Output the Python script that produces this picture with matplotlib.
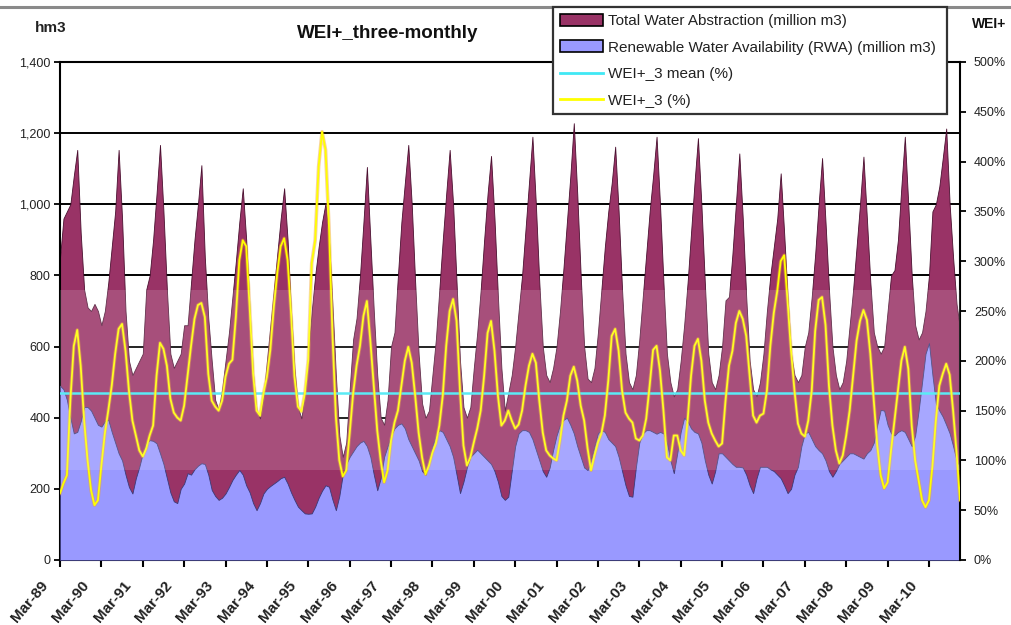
import matplotlib
matplotlib.use('Agg')
import matplotlib.pyplot as plt
from matplotlib import font_manager
from matplotlib.patches import Patch
from matplotlib.lines import Line2D
import matplotlib.transforms as mtransforms
import matplotlib.patheffects as pe
from matplotlib.ticker import FuncFormatter
import numpy as np

# ---------------- data (monthly, Mar-89 ... Dec-10) ----------------
year_labels = ['Mar-89', 'Mar-90', 'Mar-91', 'Mar-92', 'Mar-93', 'Mar-94', 'Mar-95',
               'Mar-96', 'Mar-97', 'Mar-98', 'Mar-99', 'Mar-00', 'Mar-01', 'Mar-02',
               'Mar-03', 'Mar-04', 'Mar-05', 'Mar-06', 'Mar-07', 'Mar-08', 'Mar-09',
               'Mar-10']

total_abstraction = [
    850, 960, 980, 1000, 1080, 1153, 920, 760, 710, 700, 720, 700,
    660, 700, 780, 880, 980, 1153, 960, 700, 560, 520, 540, 560,
    580, 760, 800, 900, 1030, 1167, 980, 760, 580, 540, 560, 580,
    660, 660, 780, 900, 1000, 1110, 850, 680, 560, 450, 422, 480,
    560, 640, 740, 840, 950, 1045, 900, 700, 520, 420, 398, 460,
    560, 660, 760, 860, 960, 1045, 900, 700, 540, 430, 398, 470,
    580, 700, 800, 880, 950, 1003, 900, 720, 520, 350, 290, 330,
    480, 620, 680, 800, 950, 1105, 900, 700, 520, 400, 380, 450,
    600, 640, 800, 950, 1060, 1167, 1000, 780, 580, 440, 400, 420,
    520, 620, 760, 900, 1030, 1153, 1000, 780, 560, 430, 400, 430,
    540, 640, 760, 900, 1030, 1136, 960, 740, 540, 420, 470, 520,
    600, 700, 800, 930, 1060, 1190, 1000, 780, 600, 520, 500, 540,
    600, 700, 820, 950, 1080, 1228, 1030, 800, 600, 510, 500, 540,
    640, 760, 880, 980, 1060, 1162, 980, 760, 580, 500, 480, 520,
    620, 740, 860, 980, 1080, 1190, 1000, 780, 580, 500, 460, 480,
    560, 660, 780, 920, 1060, 1186, 1000, 780, 580, 500, 480, 520,
    600, 730, 740, 860, 1000, 1143, 960, 740, 560, 480, 460, 500,
    580, 700, 800, 880, 960, 1087, 920, 740, 580, 520, 500, 520,
    600, 640, 740, 860, 1000, 1130, 950, 760, 600, 520, 480, 500,
    560, 660, 760, 880, 1000, 1134, 960, 780, 640, 600, 580, 600,
    700, 800, 815, 900, 1050, 1190, 1000, 800, 660, 620, 640, 700,
    800, 980, 1000, 1050, 1130, 1213, 1000, 850, 720, 650,
]

renewable_availability = [
    490, 480, 450, 400, 356, 360, 390, 430, 430, 420, 400, 380,
    375, 390, 394, 360, 330, 300, 280, 240, 205, 187, 230, 262,
    300, 330, 337, 335, 328, 300, 270, 230, 190, 165, 160, 200,
    215, 244, 240, 255, 265, 272, 270, 240, 197, 180, 169, 175,
    187, 205, 225, 240, 253, 240, 210, 190, 160, 140, 160, 187,
    200, 208, 215, 222, 230, 234, 215, 190, 169, 150, 140, 131,
    130, 131, 150, 175, 195, 210, 206, 170, 140, 180, 240, 270,
    290, 305, 320, 330, 335, 320, 290, 240, 196, 230, 290, 320,
    350, 370, 380, 384, 370, 340, 320, 300, 280, 250, 240, 280,
    320, 350, 365, 360, 340, 320, 290, 240, 188, 220, 260, 290,
    300, 310, 300, 290, 280, 270, 250, 220, 180, 169, 178, 250,
    320, 356, 365, 365, 360, 340, 310, 280, 250, 234, 260, 309,
    350, 380, 394, 400, 380, 356, 320, 290, 260, 253, 280, 320,
    356, 365, 360, 340, 330, 320, 290, 250, 210, 180, 178, 260,
    330, 356, 365, 365, 360, 355, 360, 356, 330, 280, 244, 300,
    360, 400, 390, 370, 360, 356, 330, 280, 240, 215, 250, 300,
    300, 290, 280, 270, 262, 262, 260, 240, 210, 188, 230, 262,
    262, 262, 255, 250, 240, 230, 210, 188, 200, 240, 262, 320,
    356, 360, 340, 320, 309, 300, 280, 250, 234, 250, 270, 280,
    290, 300, 300, 295, 290, 285, 300, 309, 330, 380, 422, 420,
    380, 356, 350, 360, 365, 360, 340, 320, 350, 420, 500, 580,
    610, 520, 440, 420, 403, 380, 356, 320, 280, 262,
]

wei_3 = [
    67, 77, 85, 160, 215, 231, 195, 140, 100, 70, 55, 60,
    95, 127, 150, 175, 207, 232, 237, 210, 170, 140, 125, 110,
    104, 112, 125, 135, 185, 218, 212, 195, 162, 148, 143, 140,
    155, 185, 215, 242, 256, 258, 244, 187, 160, 154, 150, 160,
    184, 197, 201, 244, 301, 321, 315, 254, 187, 150, 145, 167,
    184, 211, 254, 288, 315, 323, 301, 248, 184, 154, 149, 167,
    201, 298, 321, 395, 430, 412, 335, 228, 144, 100, 84, 90,
    127, 167, 195, 215, 245, 260, 220, 175, 130, 100, 78, 90,
    120, 138, 150, 175, 200, 214, 198, 165, 128, 103, 86, 95,
    108, 117, 135, 165, 215, 250, 262, 240, 170, 115, 95, 103,
    118, 132, 150, 185, 228, 240, 210, 165, 135, 140, 150, 140,
    132, 136, 150, 175, 195, 207, 198, 160, 128, 110, 105, 102,
    100, 120, 145, 160, 185, 194, 180, 155, 140, 112, 90, 105,
    118, 127, 145, 180, 225, 232, 210, 170, 148, 142, 138, 122,
    120, 125, 142, 175, 211, 215, 190, 150, 103, 100, 125, 125,
    110, 105, 140, 185, 215, 222, 200, 160, 138, 127, 120, 114,
    117, 160, 195, 210, 238, 250, 242, 225, 185, 145, 138, 145,
    147, 170, 215, 248, 270, 300, 306, 260, 210, 170, 137, 127,
    124, 140, 170, 230, 261, 264, 236, 175, 135, 110, 97, 105,
    125, 150, 185, 220, 240, 251, 241, 207, 160, 115, 85, 72,
    78, 110, 140, 170, 200, 214, 192, 135, 100, 80, 60, 53,
    60, 94, 140, 175, 187, 197, 186, 150, 108, 60,
]

wei_3_mean = 168

# ---------------- fonts ----------------
available = {f.name for f in font_manager.fontManager.ttflist}
main_font = 'Liberation Sans' if 'Liberation Sans' in available else 'DejaVu Sans'
narrow_font = 'Liberation Sans Narrow' if 'Liberation Sans Narrow' in available else main_font
plt.rcParams['font.family'] = [main_font, 'DejaVu Sans']

W, H = 1012, 625
fig = plt.figure(figsize=(W / 100, H / 100), dpi=100)
fig.patch.set_facecolor('white')

ax = fig.add_axes([60 / W, 1 - 560 / H, 900 / W, 498 / H])
n = len(total_abstraction)
x = np.arange(n)

MAROON = '#993366'
PERI = '#9999FF'
CYAN = '#40E8F4'
YELLOW = '#FFFF00'

ax.fill_between(x, 0, total_abstraction, facecolor=MAROON, edgecolor='#4a1030',
                linewidth=0.6, zorder=2)
ax.fill_between(x, 0, renewable_availability, facecolor=PERI, edgecolor='#3a3a78',
                linewidth=0.6, zorder=3)

ax.set_xlim(0, n - 1)
ax.set_ylim(0, 1400)
ax.set_yticks(range(0, 1401, 200))
ax.yaxis.set_major_formatter(FuncFormatter(lambda v, p: f'{int(v):,}'))
ax.yaxis.grid(True, color='black', linewidth=1.4)
ax.set_axisbelow(True)

tick_pos = list(range(0, n, 12))
ax.set_xticks(tick_pos)
ax.set_xticklabels([''] * len(tick_pos))
label_tr = ax.get_xaxis_transform() + mtransforms.ScaledTranslation(
    -20 / 100, -18 / 100, fig.dpi_scale_trans)
for xp, lab in zip(tick_pos, year_labels):
    ax.text(xp, 0, lab, transform=label_tr, rotation=50, ha='right', va='top',
            rotation_mode='anchor', fontsize=11, fontweight='bold',
            family=[narrow_font, 'DejaVu Sans'], color='#222222', clip_on=False)

ax.tick_params(axis='x', direction='out', length=5, width=1.5, pad=2)
ax.tick_params(axis='y', direction='out', length=4, width=1.3, labelsize=9,
               labelcolor='#222222', pad=3)
for side in ['left', 'bottom', 'top']:
    ax.spines[side].set_linewidth(1.5)
    ax.spines[side].set_color('black')
ax.spines['right'].set_visible(False)

ax2 = ax.twinx()
ax2.set_ylim(0, 500)
ax2.set_yticks(range(0, 501, 50))
ax2.yaxis.set_major_formatter(FuncFormatter(lambda v, p: f'{int(v)}%'))
ax2.axhline(wei_3_mean, color=CYAN, linewidth=1.8, zorder=3)
ax2.plot(x, wei_3, color=YELLOW, linewidth=1.3, zorder=4,
         path_effects=[pe.Stroke(linewidth=2.6, foreground='#F0A030', alpha=0.45),
                       pe.Normal()])
ax2.axhspan(90, 271, facecolor='white', alpha=0.14, linewidth=0, zorder=10)
ax2.tick_params(axis='y', direction='out', length=4, width=1.3, labelsize=9,
                labelcolor='#222222', pad=6)
ax2.spines['right'].set_linewidth(1.5)
ax2.spines['right'].set_color('black')
for side in ['left', 'top', 'bottom']:
    ax2.spines[side].set_visible(False)

# texts
fig.text(388 / W, 1 - 34 / H, 'WEI+_three-monthly', ha='center', va='center',
         fontsize=13.5, fontweight='bold', color='#111111')
fig.text(51 / W, 1 - 28 / H, 'hm3', ha='center', va='center', fontsize=11,
         fontweight='bold', color='#222222')
fig.text(972 / W, 1 - 24 / H, 'WEI+', ha='left', va='center', fontsize=10,
         fontweight='bold', color='#111111')

# top border line
fig.add_artist(Line2D([0, 1], [1 - 7 / H, 1 - 7 / H], transform=fig.transFigure,
                      color='#8a8a8a', linewidth=2.2))

handles = [Patch(facecolor=MAROON, edgecolor='black', linewidth=1.2),
           Patch(facecolor=PERI, edgecolor='black', linewidth=1.2),
           Line2D([], [], color=CYAN, linewidth=2),
           Line2D([], [], color=YELLOW, linewidth=2)]
labels = ['Total Water Abstraction (million m3)',
          'Renewable Water Availability (RWA) (million m3)',
          'WEI+_3 mean (%)',
          'WEI+_3 (%)']
leg = fig.legend(handles, labels, loc='upper left',
                 bbox_to_anchor=(553 / W, 1 - 7 / H - 0.01, 394 / W, 0.01),
                 mode='expand', bbox_transform=fig.transFigure,
                 fontsize=11, frameon=True, fancybox=False, framealpha=1,
                 edgecolor='#333333', borderpad=0.45, labelspacing=0.81,
                 handlelength=2.8, handleheight=0.8, handletextpad=0.35,
                 borderaxespad=0)
leg.get_frame().set_linewidth(1.6)
for t in leg.get_texts():
    t.set_color('#222222')

fig.savefig('out.png', dpi=100)
